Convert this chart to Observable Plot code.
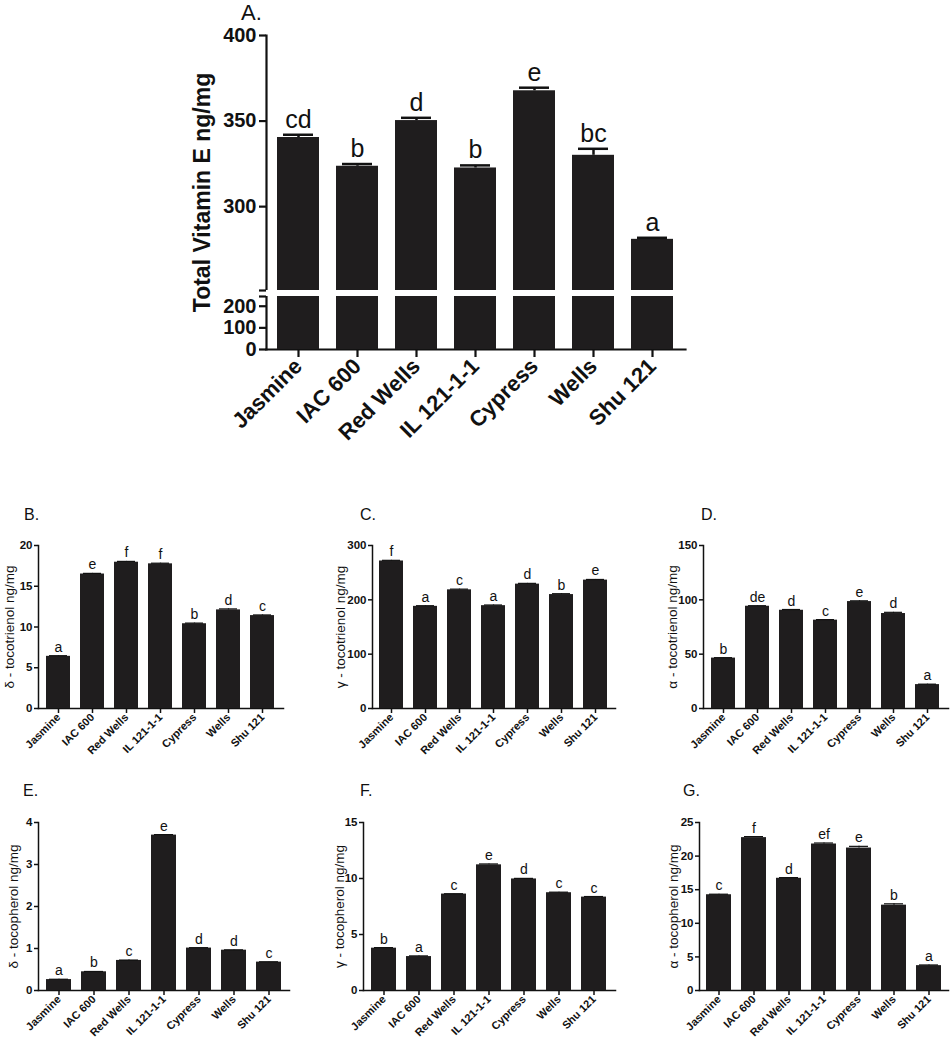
<!DOCTYPE html>
<html>
<head>
<meta charset="utf-8">
<script src="https://cdn.jsdelivr.net/npm/d3@7"></script>
<script src="https://cdn.jsdelivr.net/npm/@observablehq/plot@0.6"></script>
<style>
  body { margin: 0; background: #fff; }
  #root { position: relative; width: 950px; height: 1050px; background: #fff; font-family: "Liberation Sans", Arial, sans-serif; color: #111; }
  .panel { position: absolute; }
  .plabel { position: absolute; line-height: 1; font-weight: normal; color: #111; }
</style>
</head>
<body>
<div id="root"></div>
<script>
// ---------------- data ----------------
const cultivars = ["Jasmine", "IAC 600", "Red Wells", "IL 121-1-1", "Cypress", "Wells", "Shu 121"];

// A. Total vitamin E (ng/mg)
const totalE        = [340.4, 323.6, 350.3, 322.6, 367.7, 330.0, 280.9];
const totalEErr     = [1.6, 1.3, 1.6, 1.5, 1.8, 3.8, 0.9];
const totalELetters = ["cd", "b", "d", "b", "e", "bc", "a"];
const totalETicks   = [0, 100, 200, 300, 350, 400];
const totalEBreak   = [245, 251];

// B. δ-tocotrienol
const deltaT3        = [6.4, 16.5, 17.95, 17.75, 10.4, 12.1, 11.4];
const deltaT3Err     = [0.08, 0.08, 0.1, 0.08, 0.08, 0.12, 0.08];
const deltaT3Letters = ["a", "e", "f", "f", "b", "d", "c"];
const deltaT3Ticks   = [0, 5, 10, 15, 20];

// C. γ-tocotrienol
const gammaT3        = [271.5, 188.0, 218.4, 189.3, 228.9, 209.7, 236.3];
const gammaT3Err     = [1.2, 1.2, 1.3, 1.2, 1.4, 1.6, 1.2];
const gammaT3Letters = ["f", "a", "c", "a", "d", "b", "e"];
const gammaT3Ticks   = [0, 100, 200, 300];

// D. α-tocotrienol
const alphaT3        = [46.4, 94.1, 90.4, 81.3, 98.4, 87.4, 22.0];
const alphaT3Err     = [0.4, 0.5, 0.7, 0.5, 0.7, 1.1, 0.4];
const alphaT3Letters = ["b", "de", "d", "c", "e", "d", "a"];
const alphaT3Ticks   = [0, 50, 100, 150];

// E. δ-tocopherol
const deltaT        = [0.26, 0.445, 0.716, 3.70, 1.01, 0.96, 0.676];
const deltaTErr     = [0.008, 0.008, 0.008, 0.012, 0.01, 0.008, 0.008];
const deltaTLetters = ["a", "b", "c", "e", "d", "d", "c"];
const deltaTTicks   = [0, 1, 2, 3, 4];

// F. γ-tocopherol
const gammaT        = [3.78, 3.03, 8.61, 11.22, 9.96, 8.73, 8.34];
const gammaTErr     = [0.05, 0.06, 0.03, 0.08, 0.05, 0.05, 0.05];
const gammaTLetters = ["b", "a", "c", "e", "d", "c", "c"];
const gammaTTicks   = [0, 5, 10, 15];

// G. α-tocopherol
const alphaT        = [14.25, 22.75, 16.7, 21.8, 21.2, 12.7, 3.7];
const alphaTErr     = [0.08, 0.15, 0.1, 0.15, 0.25, 0.2, 0.1];
const alphaTLetters = ["c", "f", "d", "ef", "e", "b", "a"];
const alphaTTicks   = [0, 5, 10, 15, 20, 25];

// ---------------- drawing ----------------
const FONT = "'Liberation Sans', Arial, Helvetica, sans-serif";
const BAR = "#1f1d1e";
const root = document.getElementById("root");

function place(el, left, top) {
  const wrap = document.createElement("div");
  wrap.className = "panel";
  wrap.style.left = left + "px";
  wrap.style.top = top + "px";
  wrap.appendChild(el);
  root.appendChild(wrap);
}
function label(text, left, top, size) {
  const d = document.createElement("div");
  d.className = "plabel";
  d.textContent = text;
  d.style.left = left + "px";
  d.style.top = top + "px";
  d.style.fontSize = size + "px";
  root.appendChild(d);
}
function rows(values, errs, letters) {
  return cultivars.map((name, i) => ({name, value: values[i], err: errs[i], letter: letters[i]}));
}

// ---- Panel A (broken axis) ----
const aData = rows(totalE, totalEErr, totalELetters);
const plotA = Plot.plot({
  width: 950, height: 500,
  marginLeft: 266, marginRight: 265, marginTop: 35, marginBottom: 151,
  style: {fontFamily: FONT, fontSize: "20px", fontWeight: "bold", color: "#111", background: "transparent"},
  x: {domain: cultivars, paddingInner: 0.28, paddingOuter: 0.16},
  y: {type: "linear", domain: [0, totalEBreak[0], totalEBreak[1], 400], range: [349, 296, 290, 35]},
  marks: [
    Plot.frame({anchor: "left", strokeWidth: 2.2, stroke: "#111"}),
    Plot.frame({anchor: "bottom", strokeWidth: 2.2, stroke: "#111"}),
    Plot.barY(aData, {x: "name", y: "value", fill: BAR}),
    Plot.ruleX(aData, {x: "name", y1: "value", y2: d => d.value + d.err, strokeWidth: 2.5, stroke: "#111"}),
    Plot.tickY(aData, {x: "name", y: d => d.value + d.err, strokeWidth: 2.5, stroke: "#111", insetLeft: 6, insetRight: 6}),
    Plot.rect([{lo: totalEBreak[0], hi: totalEBreak[1]}], {y1: "lo", y2: "hi", fill: "white", insetLeft: -5, insetRight: -5}),
    Plot.axisY({ticks: [...totalETicks, ...totalEBreak], tickFormat: d => totalEBreak.includes(d) ? "" : String(d),
      tickSize: 7, tickPadding: 3, strokeWidth: 2.2, stroke: "#111", label: null, fontSize: 20, fontWeight: "bold"}),
    Plot.axisX({tickRotate: -45, tickSize: 8, tickPadding: 5, strokeWidth: 2.2, stroke: "#111", label: null, fontSize: 22, fontWeight: "bold"}),
    Plot.text(aData, {x: "name", y: d => d.value + d.err, text: "letter", dy: -7, lineAnchor: "bottom", fontSize: 25, fontWeight: "normal", fill: "#111"}),
    Plot.text(["Total Vitamin E ng/mg"], {frameAnchor: "left", textAnchor: "middle", rotate: -90, dx: -64, fontSize: 23, fontWeight: "bold", fill: "#111"})
  ]
});
place(plotA, 0, 0);
label("A.", 241, 2, 22);

// ---- small panels ----
function small(values, errs, letters, ticks, title, box) {
  const data = rows(values, errs, letters);
  return Plot.plot({
    width: box.w, height: box.h,
    marginLeft: box.ml, marginRight: box.mr, marginTop: box.mt, marginBottom: box.mb,
    style: {fontFamily: FONT, fontSize: "11px", fontWeight: "bold", color: "#111", background: "transparent"},
    x: {domain: cultivars, paddingInner: 0.28, paddingOuter: 0.16},
    y: {domain: [ticks[0], ticks[ticks.length - 1]]},
    marks: [
      Plot.frame({anchor: "left", strokeWidth: 1.5, stroke: "#111"}),
      Plot.frame({anchor: "bottom", strokeWidth: 1.5, stroke: "#111"}),
      Plot.barY(data, {x: "name", y: "value", fill: BAR}),
      Plot.ruleX(data, {x: "name", y1: "value", y2: d => d.value + d.err, strokeWidth: 1.2, stroke: "#111"}),
      Plot.tickY(data, {x: "name", y: d => d.value + d.err, strokeWidth: 1.2, stroke: "#111", insetLeft: 3, insetRight: 3}),
      Plot.axisY({ticks, tickFormat: d => String(d), tickSize: 4, tickPadding: 2, strokeWidth: 1.5, stroke: "#111", label: null, fontSize: 11.5, fontWeight: "bold"}),
      Plot.axisX({tickRotate: -45, tickSize: 5, tickPadding: 2, strokeWidth: 1.5, stroke: "#111", label: null, fontSize: 11, fontWeight: "bold"}),
      Plot.text(data, {x: "name", y: d => d.value + d.err, text: "letter", dy: -4, lineAnchor: "bottom", fontSize: 14, fontWeight: "normal", fill: "#111"}),
      Plot.text([title], {frameAnchor: "left", textAnchor: "middle", rotate: -90, dx: box.tdx, fontSize: 13.5, fontWeight: "normal", fill: "#111"})
    ]
  });
}

const row1 = {h: 270, mt: 45, mb: 62};
const row2 = {h: 280, mt: 52, mb: 60};

place(small(deltaT3, deltaT3Err, deltaT3Letters, deltaT3Ticks, "δ - tocotrienol ng/mg",
  {...row1, w: 316, ml: 38, mr: 33, tdx: -29}), 0, 500);
place(small(gammaT3, gammaT3Err, gammaT3Letters, gammaT3Ticks, "γ - tocotrienol ng/mg",
  {...row1, w: 317, ml: 56, mr: 18, tdx: -32}), 316, 500);
place(small(alphaT3, alphaT3Err, alphaT3Letters, alphaT3Ticks, "α - tocotrienol ng/mg",
  {...row1, w: 317, ml: 70, mr: 2, tdx: -31}), 633, 500);

place(small(deltaT, deltaTErr, deltaTLetters, deltaTTicks, "δ - tocopherol ng/mg",
  {...row2, w: 316, ml: 38, mr: 27, tdx: -25}), 0, 770);
place(small(gammaT, gammaTErr, gammaTLetters, gammaTTicks, "γ - tocopherol ng/mg",
  {...row2, w: 317, ml: 47, mr: 18, tdx: -24}), 316, 770);
place(small(alphaT, alphaTErr, alphaTLetters, alphaTTicks, "α - tocopherol ng/mg",
  {...row2, w: 317, ml: 66, mr: 2, tdx: -26}), 633, 770);

label("B.", 24, 507, 16);
label("C.", 360, 507, 16);
label("D.", 701, 507, 16);
label("E.", 23, 783, 16);
label("F.", 360, 783, 16);
label("G.", 683, 783, 16);
</script>
</body>
</html>
